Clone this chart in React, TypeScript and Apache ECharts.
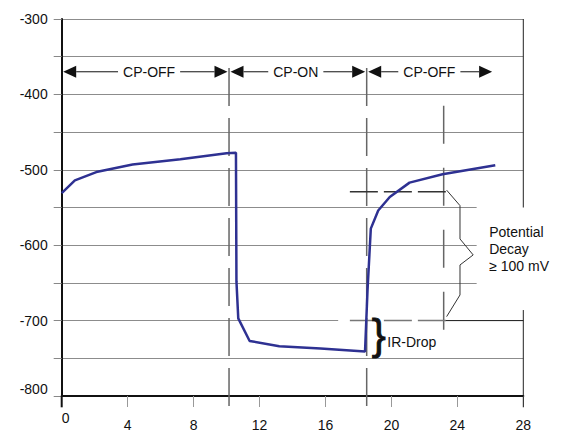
import React, { useEffect, useRef } from "react";
import * as echarts from "echarts";

// ---- data ----
const timeH = [0, 0.8, 2.1, 4.3, 7.2, 10.0, 10.57, 10.6, 10.71, 11.4, 13.2, 15.7, 18.4, 18.55, 18.75, 19.2, 19.9, 21.1, 23.1, 26.3];
const potentialMV = [-531, -514, -503, -493, -486, -478, -477.5, -648, -697, -727, -734, -737, -741, -660, -578, -554, -536, -517, -506, -494];

const xMin = 0;
const xMax = 28;
const xInterval = 4;
const yMin = -800;
const yMax = -300;
const yInterval = 50;
const yLabelStep = 100;

const phaseLabels = ["CP-OFF", "CP-ON", "CP-OFF"];
const phaseStart = [0, 10.15, 18.5];
const phaseEnd = [10.15, 18.5, 26.2];
const phaseLabelX = [5.3, 14.2, 22.3];
const phaseRowY = -370;

const boundaryX = [10.15, 18.5];
const boundaryTop = -365;
const boundaryBottom = -815;

const decayX = 23.17;
const decayTop = -415;
const decayBottom = -716;
const decayLevels = [-529, -700];
const decayFrom = 17.48;
const decayTo = 23.3;
const decayText = ["Potential", "Decay", "\u2265 100 mV"];
const irDropText = "IR-Drop";

const FONT = '"Liberation Sans", Arial, Helvetica, sans-serif';

// annotation geometry (in data units)
const bracketPts: [number, number][] = [
  [23.35, -527], [24.16, -547.5], [24.16, -591.7], [24.96, -612.9],
  [24.16, -626.2], [24.16, -666], [23.35, -694.7],
];

function renderPhase(params: any, api: any) {
  const i = params.dataIndex;
  const a = api.coord([phaseStart[i], phaseRowY]);
  const b = api.coord([phaseEnd[i], phaseRowY]);
  const m = api.coord([phaseLabelX[i], phaseRowY]);
  const L = 13, H = 6, inset = 1.5;
  const xl = a[0] + inset, xr = b[0] - inset, y = a[1];
  return {
    type: "group",
    children: [
      { type: "line", shape: { x1: xl + L, y1: y, x2: xr - L, y2: y }, style: { stroke: "#111", lineWidth: 1 } },
      { type: "polygon", shape: { points: [[xl, y], [xl + L, y - H], [xl + L, y + H]] }, style: { fill: "#111" } },
      { type: "polygon", shape: { points: [[xr, y], [xr - L, y - H], [xr - L, y + H]] }, style: { fill: "#111" } },
      {
        type: "text", x: m[0], y: m[1],
        style: {
          text: phaseLabels[i], fill: "#111", font: `14px ${FONT}`,
          align: "center", verticalAlign: "middle",
          backgroundColor: "#fff", padding: [1, 5, 1, 5],
        },
      },
    ],
  };
}

function renderGuides(_params: any, api: any) {
  const c = (x: number, y: number) => api.coord([x, y]);
  const ln = (p1: number[], p2: number[], stroke: string, lineWidth: number, lineDash?: number[]) => ({
    type: "line",
    shape: { x1: p1[0], y1: p1[1], x2: p2[0], y2: p2[1] },
    style: { stroke, lineWidth, lineDash },
  });
  const children: any[] = [];
  const r1 = c(25.17, -545), r2 = c(28.6, -690);
  children.push({ type: "rect", shape: { x: r1[0], y: r1[1], width: r2[0] - r1[0], height: r2[1] - r1[1] }, style: { fill: "#fff" } });
  children.push(ln(c(xMax, yMax), c(xMax, -550), "#222", 1));
  children.push(ln(c(xMax, -686), c(xMax, -815), "#222", 1));
  children.push(ln(c(xMin, yMin), c(xMin, -815), "#111", 2));
  children.push(ln(c(16.77, -700), c(decayTo - 0.06, -700), "#fff", 3));
  children.push(ln(c(decayTo - 0.06, -700), c(xMax, -700), "#222", 1));
  boundaryX.forEach((x) => children.push(ln(c(x, boundaryTop), c(x, boundaryBottom), "#666", 1.5, [38, 12])));
  children.push(ln(c(decayX, decayTop), c(decayX, decayBottom), "#666", 1.5, [38, 24]));
  decayLevels.forEach((v, i) => children.push(ln(c(decayFrom, v), c(decayTo, v), i === 0 ? "#333" : "#777", 1.5, [28, 6])));
  children.push({ type: "polyline", shape: { points: bracketPts.map((p) => c(p[0], p[1])) }, style: { stroke: "#333", lineWidth: 1, fill: "none" } });
  const tp = c(25.93, -605.6);
  children.push({
    type: "text", x: tp[0], y: tp[1],
    style: { text: decayText.join("\n"), fill: "#111", font: `14px ${FONT}`, align: "left", verticalAlign: "middle", lineHeight: 17 },
  });
  const bp = c(18.8, -719);
  children.push({
    type: "text", x: bp[0], y: bp[1],
    style: { text: "}", fill: "#111", stroke: "#111", lineWidth: 0.9, font: `42px ${FONT}`, align: "left", verticalAlign: "middle" },
  });
  const ip = c(19.75, -729);
  children.push({
    type: "text", x: ip[0], y: ip[1],
    style: { text: irDropText, fill: "#111", font: `14px ${FONT}`, align: "left", verticalAlign: "middle" },
  });
  return { type: "group", children };
}

export default function App() {
  const ref = useRef<HTMLDivElement>(null);
  useEffect(() => {
    if (!ref.current) return;
    const chart = echarts.init(ref.current, undefined, { renderer: "svg" });
    const labelBase = { fontSize: 14, fontFamily: FONT, color: "#111" };
    chart.setOption({
      animation: false,
      backgroundColor: "#fff",
      grid: { left: 61.7, right: 37.7, top: 19, bottom: 36, containLabel: false, outerBoundsMode: "none" },
      xAxis: [
        {
          type: "value", min: xMin, max: xMax, interval: xInterval, position: "bottom",
          axisLine: { show: true, onZero: false, lineStyle: { color: "#111", width: 2 } },
          axisTick: { show: true, length: 11, lineStyle: { color: "#999", width: 1 } },
          splitLine: { show: false },
          axisLabel: { ...labelBase, margin: 22, formatter: (v: number) => (v === xMin ? "" : String(v)) },
        },
        {
          type: "value", min: xMin, max: xMax, interval: xInterval, position: "bottom",
          axisLine: { show: false }, axisTick: { show: false }, splitLine: { show: false },
          axisLabel: { ...labelBase, margin: 15, align: "left", formatter: (v: number) => (v === xMin ? String(v) : "") },
        },
      ],
      yAxis: [
        {
          type: "value", min: yMin, max: yMax, interval: yInterval, position: "left",
          axisLine: { show: true, onZero: false, lineStyle: { color: "#111", width: 2 } },
          axisTick: { show: true, length: 8, lineStyle: { color: "#888", width: 1 } },
          splitLine: { show: true, lineStyle: { color: "#8c8c8c", width: 1 } },
          axisLabel: {
            ...labelBase, margin: 14,
            formatter: (v: number) => (v % yLabelStep === 0 && v !== yMin ? String(v) : ""),
          },
        },
        {
          type: "value", min: yMin, max: yMax, interval: yInterval, position: "left",
          axisLine: { show: false }, axisTick: { show: false }, splitLine: { show: false },
          axisLabel: { ...labelBase, margin: 14, verticalAlign: "bottom", formatter: (v: number) => (v === yMin ? String(v) : "") },
        },
      ],
      series: [
        {
          type: "custom", name: "guides", z: 1, silent: true, clip: false,
          xAxisIndex: 0, yAxisIndex: 0,
          data: [[xMin, yMin]],
          renderItem: renderGuides,
        },
        {
          type: "line", name: "potential", z: 2, silent: true,
          xAxisIndex: 0, yAxisIndex: 0,
          data: timeH.map((t, i) => [t, potentialMV[i]]),
          showSymbol: false, symbol: "none",
          lineStyle: { color: "#2e3192", width: 2.5 },
        },
        {
          type: "custom", name: "phases", z: 3, silent: true, clip: false,
          xAxisIndex: 0, yAxisIndex: 0,
          data: phaseStart.map((s) => [s, phaseRowY]),
          renderItem: renderPhase,
        },
      ],
    });
    return () => chart.dispose();
  }, []);
  return <div ref={ref} style={{ position: "fixed", left: 0, top: 0, width: 561, height: 432 }} />;
}
